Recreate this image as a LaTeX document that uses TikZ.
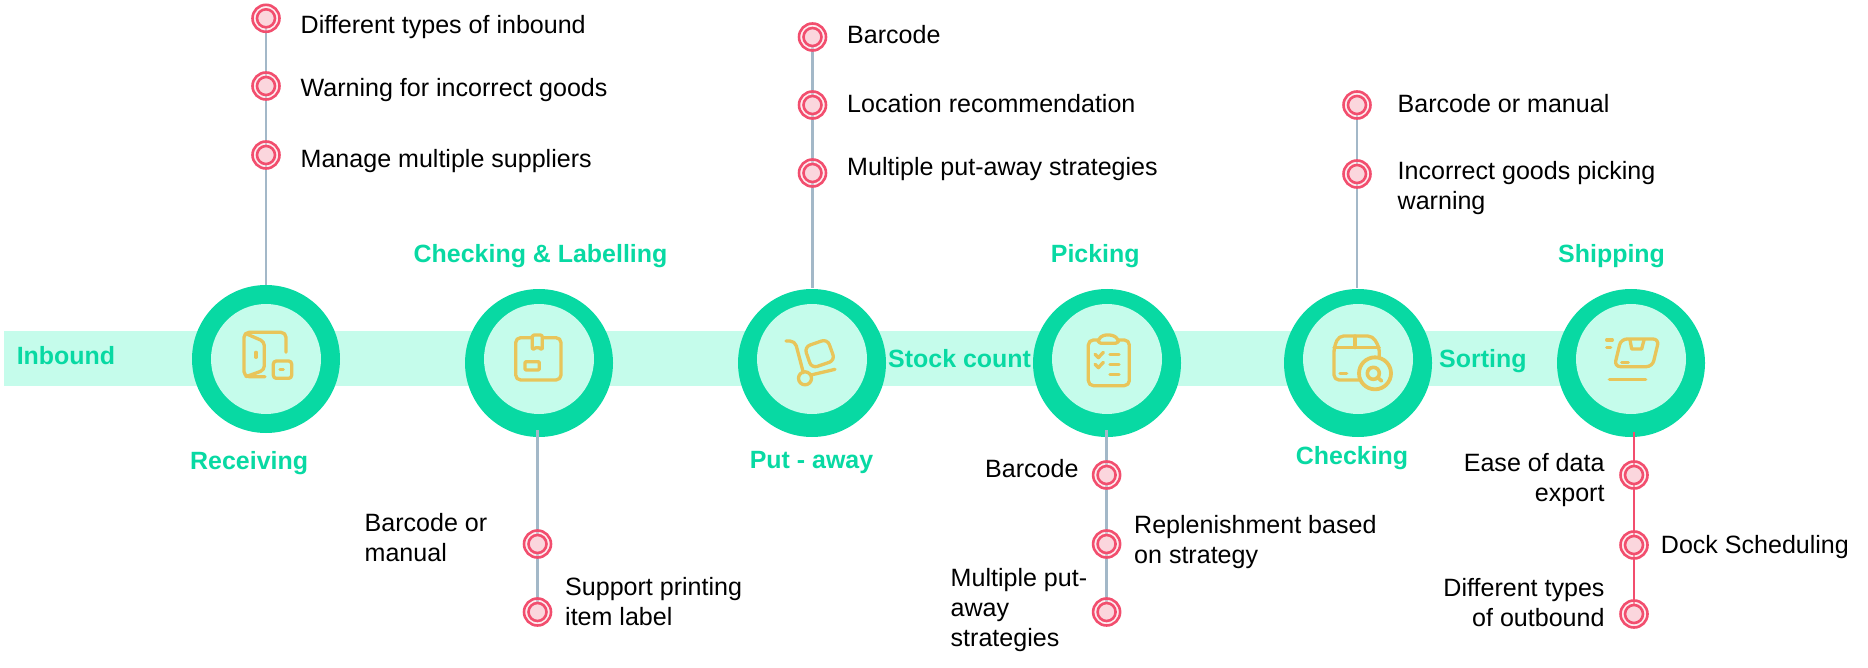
\documentclass[tikz,border=0pt]{standalone}
\usepackage{fontspec}
\setmainfont{Liberation Sans}
\definecolor{ringc}{RGB}{8,217,163}
\definecolor{softc}{RGB}{197,252,235}
\definecolor{iconc}{RGB}{232,197,90}
\definecolor{linec}{RGB}{163,184,200}
\definecolor{redc}{RGB}{242,78,110}
\definecolor{pinkc}{RGB}{251,214,221}
\tikzset{
  band/.style={fill=softc,draw=none},
  ringnode/.style={circle,fill=ringc,draw=none,minimum size=148pt,inner sep=0pt},
  corenode/.style={circle,fill=softc,draw=none,minimum size=110pt,inner sep=0pt},
  pinouter/.style={circle,draw=redc,line width=2.6pt,fill=pinkc,fill opacity=0.45,minimum size=27pt,inner sep=0pt},
  pininner/.style={circle,draw=redc,line width=2.6pt,fill=pinkc,minimum size=18pt,inner sep=0pt},
  steplabel/.style={anchor=base west,inner sep=0pt,text=ringc,font=\fontsize{24.95}{30}\selectfont\bfseries},
  note/.style={anchor=base west,inner sep=0pt,text=black,font=\fontsize{25.05}{30}\selectfont,align=left},
  noteright/.style={anchor=base east,inner sep=0pt,text=black,font=\fontsize{25.05}{30}\selectfont,align=right},
  stem/.style={draw=linec,line width=2.6pt},
  redstem/.style={draw=redc,line width=2.6pt},
  icon/.style={draw=iconc,line width=3.3pt,line cap=round,line join=round},
}
\newcommand{\mypin}[3]{%
  \node[pinouter] (#1) at (#2,#3) {};
  \node[pininner] (#1i) at (#2,#3) {};
}
\begin{document}
\begin{tikzpicture}[x=1pt,y=-1pt]
\useasboundingbox (0,0) rectangle (1868,668);
\fill[band] (4,331) rectangle (1575,386);
% rings
\node[ringnode] (r1) at (266,359) {};
\node[corenode] (c1) at (266,359) {};
\node[ringnode] (r2) at (539,363) {};
\node[corenode] (c2) at (539,359) {};
\node[ringnode] (r3) at (812,363) {};
\node[corenode] (c3) at (812,359) {};
\node[ringnode] (r4) at (1107,363) {};
\node[corenode] (c4) at (1107,359) {};
\node[ringnode] (r5) at (1358,363) {};
\node[corenode] (c5) at (1358,359) {};
\node[ringnode] (r6) at (1631,363) {};
\node[corenode] (c6) at (1631,359) {};
% free connector ends
\coordinate (e1) at (266,285);
\coordinate (e2) at (537.5,430);
\coordinate (e3) at (812.5,288);
\coordinate (e4) at (1106.6,430);
\coordinate (e5) at (1357,288);
\coordinate (e6) at (1634,432);
% pin centres for connectors
\coordinate (a1) at (266,18.3);
\coordinate (b2) at (537.5,612);
\coordinate (d1) at (812.5,37);
\coordinate (f3) at (1106.6,612);
\coordinate (g1) at (1357,105);
\coordinate (h3) at (1634,614);
\draw[stem] (a1) -- (e1);
\draw[stem] (e2) -- (b2);
\draw[stem] (d1) -- (e3);
\draw[stem] (e4) -- (f3);
\draw[stem] (g1) -- (e5);
\draw[redstem] (e6) -- (h3);
% pins
\mypin{pa1}{266}{18.3}\mypin{pa2}{266}{86}\mypin{pa3}{266}{155}
\mypin{pb1}{537.5}{544}\mypin{pb2}{537.5}{612}
\mypin{pd1}{812.5}{37}\mypin{pd2}{812.5}{105}\mypin{pd3}{812.5}{173}
\mypin{pf1}{1106.6}{475}\mypin{pf2}{1106.6}{544}\mypin{pf3}{1106.6}{612}
\mypin{pg1}{1357}{105}\mypin{pg2}{1357}{174}
\mypin{ph1}{1634}{475}\mypin{ph2}{1634}{545}\mypin{ph3}{1634}{614}
% step labels
\node[steplabel] (t1) at (16.6,364) {Inbound};
\node[steplabel] (t2) at (190,469) {Receiving};
\node[steplabel] (t3) at (413.5,263) {Checking \& Labelling};
\node[steplabel] (t4) at (749.6,468) {Put - away};
\node[steplabel] (t5) at (888,367) {Stock count};
\node[steplabel] (t6) at (1050.7,263) {Picking};
\node[steplabel] (t7) at (1295.7,464) {Checking};
\node[steplabel] (t8) at (1439,367.5) {Sorting};
\node[steplabel] (t9) at (1558,263) {Shipping};
% notes
\node[note] (n1) at (300.5,33.7) {Different types of inbound};
\node[note] (n2) at (300.5,97) {Warning for incorrect goods};
\node[note] (n3) at (300.5,168) {Manage multiple suppliers};
\node[note] (n4) at (364.5,561) {Barcode or\\manual};
\node[note] (n5) at (565,625) {Support printing\\item label};
\node[note] (n6) at (847,44) {Barcode};
\node[note] (n7) at (847,113) {Location recommendation};
\node[note] (n8) at (847,176) {Multiple put-away strategies};
\node[note] (n9) at (985,477) {Barcode};
\node[note] (n10) at (1134,563.5) {Replenishment based\\on strategy};
\node[note] (n11) at (950.5,646.5) {Multiple put-\\away\\strategies};
\node[note] (n12) at (1397.5,113) {Barcode or manual};
\node[note] (n13) at (1397.5,210) {Incorrect goods picking\\warning};
\node[noteright] (n14) at (1604.7,501.5) {Ease of data\\export};
\node[note] (n15) at (1660.7,553.5) {Dock Scheduling};
\node[noteright] (n16) at (1604.7,626.5) {Different types\\of outbound};
% icon 1: door
\begin{scope}[shift={(230,325)},x=0.3333pt,y=-0.3333pt,icon]
\draw[rounded corners=5pt] (105,155) -- (42,155) -- (42,22) -- (168,22) -- (168,82);
\draw[rounded corners=4pt] (48,26) -- (103,50) -- (103,135) -- (48,155);
\draw (78,82) -- (78,97);
\draw[rounded corners=3pt] (130,108) rectangle (185,160);
\draw (150,133) -- (160,133);
\end{scope}
% icon 2: parcel
\begin{scope}[shift={(505,325)},x=0.3333pt,y=-0.3333pt,icon]
\draw[rounded corners=5pt] (32,38) rectangle (168,165);
\draw[fill=softc,rounded corners=2pt] (82,38) -- (82,30) -- (112,30) -- (112,75) -- (97,65) -- (82,75) -- cycle;
\draw[rounded corners=1pt] (60,110) rectangle (103,135);
\end{scope}
% icon 3: trolley
\begin{scope}[shift={(775,325)},x=0.3333pt,y=-0.3333pt,icon]
\draw[rounded corners=5pt] (33,48) -- (60,48) -- (85,143);
\draw (90,160) circle[radius=6.5pt];
\draw (108,150) -- (180,133);
\draw[rounded corners=6pt] (88,66) -- (157,42) -- (180,106) -- (110,130) -- cycle;
\end{scope}
% icon 4: clipboard
\begin{scope}[shift={(1070,325)},x=0.3333pt,y=-0.3333pt,icon]
\draw[rounded corners=5pt] (55,45) rectangle (178,182);
\draw[fill=softc,rounded corners=3pt] (85,55) -- (85,42) -- (100,30) -- (128,30) -- (145,42) -- (145,55) -- cycle;
\draw (75,88) -- (85,98) -- (100,82);
\draw (75,118) -- (85,128) -- (100,112);
\draw (120,88) -- (147,88);
\draw (120,118) -- (147,118);
\draw (120,148) -- (147,148);
\end{scope}
% icon 5: box and magnifier
\begin{scope}[shift={(1320,325)},x=0.3333pt,y=-0.3333pt,icon]
\draw[rounded corners=5pt] (125,165) -- (42,165) -- (42,68) -- (56,33) -- (158,33) -- (178,68) -- (178,105);
\draw (42,68) -- (178,68);
\draw (105,33) -- (105,68);
\draw (60,145) -- (80,145);
\draw[fill=softc,line width=3.8pt] (165,145) circle[radius=16pt];
\draw[line width=3.6pt] (160,145) circle[radius=6pt];
\draw[line width=3.6pt] (172,157) -- (185,168);
\end{scope}
% icon 6: tilted parcel
\begin{scope}[shift={(1595,325)},x=0.3333pt,y=-0.3333pt,icon]
\draw[rounded corners=6pt] (78,42) -- (192,42) -- (172,125) -- (58,125) -- cycle;
\draw (105,45) -- (110,72) -- (140,72) -- (147,45);
\draw (80,112) -- (100,112);
\draw (35,45) -- (52,45);
\draw (35,67) -- (47,67);
\draw (43,163) -- (152,163);
\end{scope}
\end{tikzpicture}
\end{document}
